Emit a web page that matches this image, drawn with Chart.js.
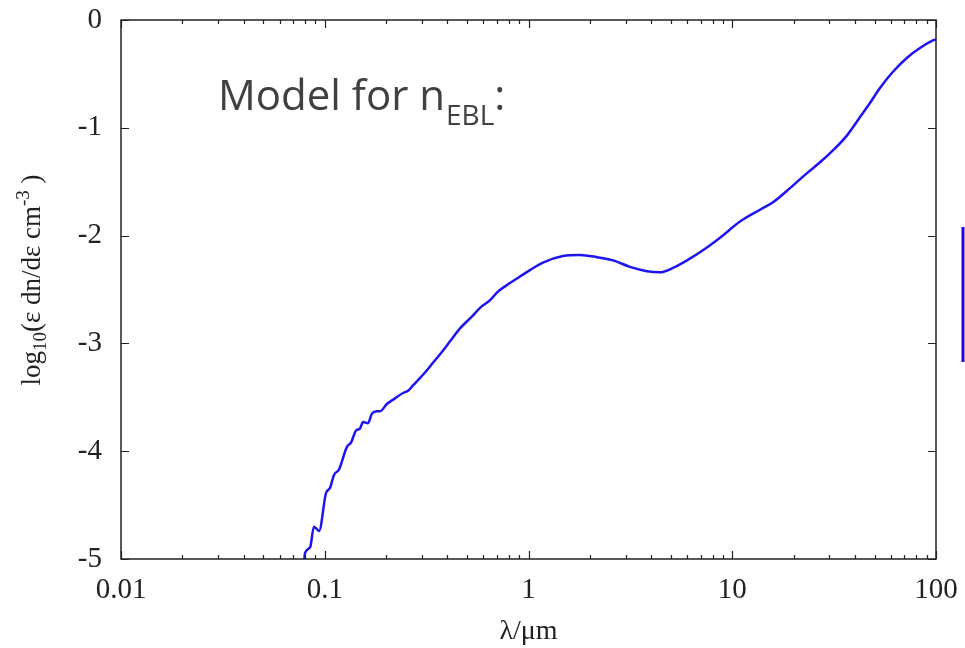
<!DOCTYPE html>
<html>
<head>
<meta charset="utf-8">
<script src="https://cdn.jsdelivr.net/npm/chart.js@4"></script>
<style>
    html, body { margin: 0; padding: 0; background: #fff; }
    #chart { display: block; }
</style>
</head>
<body>
<canvas id="chart" width="965" height="648"></canvas>
<script>
// EBL model: wavelength (µm) vs log10(eps dn/deps)
const lambdaValues = [0.0790, 0.0800, 0.0848, 0.0885, 0.0938, 0.1014, 0.1062, 0.1110, 0.1175, 0.1285,
    0.1346, 0.1422, 0.1489, 0.1542, 0.1630, 0.1706, 0.1803, 0.1866, 0.2023, 0.2213,
    0.2421, 0.2565, 0.2710, 0.2871, 0.3105, 0.3396, 0.3757, 0.4121, 0.4613, 0.5284,
    0.5781, 0.6471, 0.7079, 0.8110, 0.9078, 1.016, 1.178, 1.476, 1.790, 2.168,
    2.600, 3.148, 3.816, 4.420, 5.118, 5.998, 7.516, 8.71, 10.92, 13.68,
    15.85, 19.19, 23.28, 26.97, 31.2, 36.6, 42.4, 47.4, 53.1, 61.5,
    72.1, 83.4, 96.6, 100];
const logDensity = [-5.05, -4.945, -4.89, -4.70, -4.74, -4.39, -4.34, -4.22, -4.17, -3.96,
    -3.92, -3.81, -3.79, -3.73, -3.74, -3.65, -3.63, -3.63, -3.56, -3.51,
    -3.46, -3.44, -3.39, -3.34, -3.27, -3.18, -3.08, -2.98, -2.86, -2.75,
    -2.67, -2.60, -2.52, -2.44, -2.38, -2.32, -2.25, -2.19, -2.18, -2.20,
    -2.23, -2.29, -2.33, -2.34, -2.30, -2.23, -2.11, -2.02, -1.87, -1.76,
    -1.69, -1.56, -1.42, -1.32, -1.21, -1.07, -0.90, -0.77, -0.63, -0.48,
    -0.35, -0.26, -0.19, -0.18];

// Achsen
const xTicks = [0.01, 0.1, 1, 10, 100];
const yTicks = [0, -1, -2, -3, -4, -5];

const LINE_COLOR = 'rgb(30, 20, 240)';
const AXIS_COLOR = '#222';

// Rahmen, Ticks (gnuplot-Stil), Achsentitel, Beschriftung
const framePlugin = {
    id: 'frame',
    afterDraw(chart) {
        const { ctx, chartArea: a, scales: { x, y } } = chart;
        ctx.save();

        // Rahmen
        ctx.strokeStyle = AXIS_COLOR;
        ctx.lineWidth = 1.5;
        ctx.strokeRect(a.left, a.top, a.right - a.left, a.bottom - a.top);

        // x-Ticks (log, mit Zwischenticks) unten und oben
        ctx.lineWidth = 1.2;
        ctx.beginPath();
        for (let i = 0; i < xTicks.length; i++) {
            const dec = xTicks[i];
            const last = i === xTicks.length - 1;
            for (let m = 1; m <= (last ? 1 : 9); m++) {
                const px = Math.round(x.getPixelForValue(dec * m)) + 0.5;
                const len = m === 1 ? 8 : 4;
                ctx.moveTo(px, a.bottom); ctx.lineTo(px, a.bottom - len);
                ctx.moveTo(px, a.top); ctx.lineTo(px, a.top + len);
            }
        }
        // y-Ticks links und rechts
        yTicks.forEach(v => {
            const py = Math.round(y.getPixelForValue(v)) + 0.5;
            ctx.moveTo(a.left, py); ctx.lineTo(a.left + 8, py);
            ctx.moveTo(a.right, py); ctx.lineTo(a.right - 8, py);
        });
        ctx.stroke();

        // y-Achsentitel mit Index/Exponent
        const fs = 27;
        const sub = Math.round(fs * 0.7);
        const parts = [
            { t: 'log', f: fs, dy: 0 },
            { t: '10', f: sub, dy: 6 },
            { t: '(ε dn/dε cm', f: fs, dy: 0 },
            { t: '-3', f: sub, dy: -11 },
            { t: ' )', f: fs, dy: 0 }
        ];
        let total = 0;
        parts.forEach(p => {
            ctx.font = `${p.f}px "Liberation Serif"`;
            p.w = ctx.measureText(p.t).width;
            total += p.w;
        });
        ctx.translate(40, 280);
        ctx.rotate(-Math.PI / 2);
        ctx.fillStyle = AXIS_COLOR;
        ctx.textBaseline = 'alphabetic';
        let cx = -total / 2;
        parts.forEach(p => {
            ctx.font = `${p.f}px "Liberation Serif"`;
            ctx.fillText(p.t, cx, p.dy);
            cx += p.w;
        });
        ctx.setTransform(1, 0, 0, 1, 0, 0);

        // Beschriftung im Plot
        ctx.fillStyle = '#404040';
        ctx.textBaseline = 'alphabetic';
        let tx = 218;
        ctx.font = '42px "Open Sans"';
        ctx.fillText('Model for n', tx, 110);
        tx += ctx.measureText('Model for n').width + 1;
        ctx.font = '28px "Open Sans"';
        ctx.fillText('EBL', tx, 125);
        tx += ctx.measureText('EBL').width;
        ctx.font = '42px "Open Sans"';
        ctx.fillText(':', tx, 110);

        // Legendenrest rechts
        ctx.strokeStyle = 'rgb(34, 0, 238)';
        ctx.lineWidth = 3;
        ctx.beginPath();
        ctx.moveTo(a.right + 27, 227);
        ctx.lineTo(a.right + 27, 362);
        ctx.stroke();

        ctx.restore();
    }
};

function init() {
    const points = lambdaValues.map((l, i) => ({ x: l, y: logDensity[i] }));

    new Chart(document.getElementById('chart'), {
        type: 'scatter',
        data: {
            datasets: [{
                label: 'n_EBL',
                data: points,
                showLine: true,
                borderColor: LINE_COLOR,
                borderWidth: 2.5,
                pointRadius: 0,
                cubicInterpolationMode: 'monotone'
            }]
        },
        options: {
            responsive: false,
            animation: false,
            layout: { padding: { left: 0, right: 29, top: 20, bottom: 0 } },
            plugins: {
                legend: { display: false },
                tooltip: { enabled: false }
            },
            scales: {
                x: {
                    type: 'logarithmic',
                    min: 0.01,
                    max: 100,
                    grid: { display: false, drawTicks: false },
                    border: { display: false },
                    afterBuildTicks: scale => {
                        scale.ticks = xTicks.map(v => ({ value: v }));
                    },
                    afterFit: scale => {
                        scale.height = 89;
                        scale.paddingLeft = 0;
                        scale.paddingRight = 0;
                    },
                    ticks: {
                        autoSkip: false,
                        maxRotation: 0,
                        padding: 14,
                        color: AXIS_COLOR,
                        font: { family: 'Liberation Serif', size: 29 },
                        callback: v => String(v)
                    },
                    title: {
                        display: true,
                        text: 'λ/μm',
                        color: AXIS_COLOR,
                        font: { family: 'Liberation Serif', size: 28 },
                        padding: { top: 0, bottom: 0 }
                    }
                },
                y: {
                    min: -5,
                    max: 0,
                    grid: { display: false, drawTicks: false },
                    border: { display: false },
                    afterBuildTicks: scale => {
                        scale.ticks = yTicks.map(v => ({ value: v }));
                    },
                    afterFit: scale => {
                        scale.width = 121;
                        scale.paddingTop = 0;
                        scale.paddingBottom = 0;
                    },
                    ticks: {
                        padding: 19,
                        color: AXIS_COLOR,
                        font: { family: 'Liberation Serif', size: 29 },
                        callback: v => String(v)
                    }
                }
            }
        },
        plugins: [framePlugin]
    });
}

document.addEventListener('DOMContentLoaded', init);
</script>
</body>
</html>
